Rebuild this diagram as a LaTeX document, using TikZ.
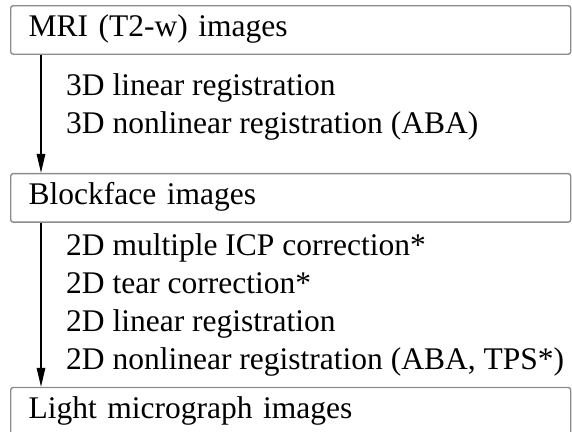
\documentclass[tikz,border=0pt]{standalone}
\usepackage{fontspec}
\setmainfont{Liberation Serif}
\usetikzlibrary{arrows.meta,positioning,calc}

\begin{document}
\begin{tikzpicture}[
                x=1pt, y=1pt,
                font=\fontsize{31.5}{38}\selectfont,
                >={Triangle[length=19pt,width=8.5pt]},
                stage/.style={draw=black!45, line width=1.4pt, rounded corners=2.5pt, minimum width=560pt, minimum height=48.5pt,
                              inner xsep=18pt, text width=524pt, align=left, text height=21pt, text depth=7pt},
                stepnote/.style={anchor=base west, inner sep=0pt},
                flow/.style={->, line width=1.5pt},
            ]
            \useasboundingbox (0,0) rectangle (572,-431);

            % ----- stages -----
            \node[stage, anchor=north west] (mri) at (10,-5) {MRI (T2-w) images};
            \node[stage, below=118pt of mri] (blockface) {Blockface images};
            \node[stage, below=164pt of blockface] (light) {Light micrograph images};

            % ----- 3D steps -----
            \node[stepnote] (lin3) at (66,-95) {3D linear registration};
            \node[stepnote] (nonlin3) at (66,-133) {3D nonlinear registration (ABA)};

            % ----- 2D steps -----
            \node[stepnote] (icp) at (66,-255) {2D multiple ICP correction*};
            \node[stepnote] (tear) at (66,-293) {2D tear correction*};
            \node[stepnote] (lin2) at (66,-331) {2D linear registration};
            \node[stepnote] (nonlin2) at (66,-369) {2D nonlinear registration (ABA, TPS*)};

            % arrows down the left side
            \draw[flow] ([xshift=31pt]mri.south west) -- ([xshift=31pt]blockface.north west);
            \draw[flow] ([xshift=31pt]blockface.south west) -- ([xshift=31pt]light.north west);
\end{tikzpicture}
\end{document}
